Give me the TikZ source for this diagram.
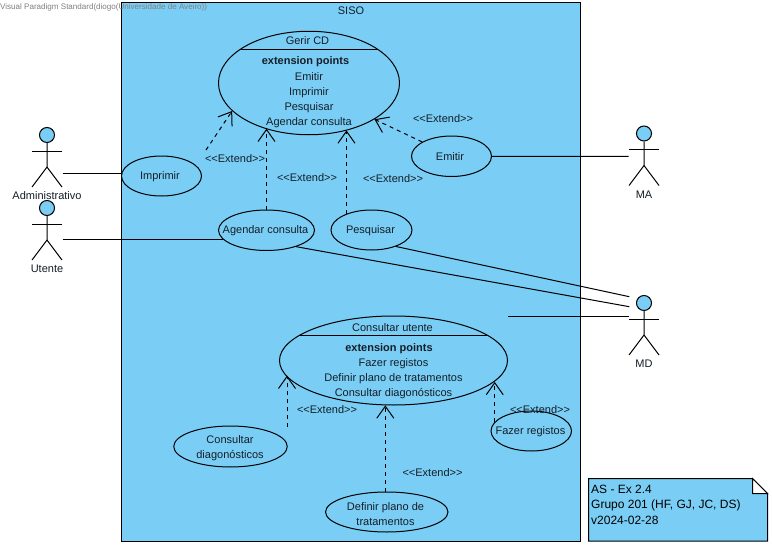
\documentclass[tikz,border=0pt]{standalone}
\usepackage{fontspec}
\setmainfont{Liberation Sans}
\usetikzlibrary{arrows.meta,shapes.geometric,calc}
\definecolor{vpblue}{RGB}{122,206,245}
\definecolor{txt}{RGB}{20,30,40}
\tikzset{
  usecase/.style={ellipse,draw=black,fill=vpblue,line width=1pt,inner sep=0pt,minimum width=#1},
  usecase/.default=80pt,
  lbl/.style={inner sep=0pt,yshift=-1pt,text=txt,font=\fontsize{11}{15}\selectfont,align=center},
  notelbl/.style={inner sep=0pt,text=black,font=\fontsize{12}{15.5}\selectfont,align=left,anchor=north west},
  assoc/.style={draw=black,line width=1pt},
  extendline/.style={draw=black,line width=1pt,dash pattern=on 4pt off 4pt,-{Straight Barb[length=12pt,width=17pt,line width=1pt]}},
  limb/.style={draw=black,line width=1pt},
}
\newcommand{\actorfig}[4]{% name, x, head y, label
  \node[circle,draw=black,fill=vpblue,line width=1pt,minimum size=15pt,inner sep=0pt] (#1) at (#2,#3) {};
  \draw[limb] (#1.south) -- ++(0,24) coordinate (#1hip) -- ++(-15,20);
  \draw[limb] (#1hip) -- ++(15,20);
  \draw[limb] (#2-15,#3+16) -- (#2+15,#3+16);
  \node[lbl] (#1lbl) at (#2,#3+60) {#4};
}
\begin{document}
\begin{tikzpicture}[x=1pt,y=-1pt]
\useasboundingbox (0,0) rectangle (772,546);
\fill[white] (0,0) rectangle (772,546);
% system
\node[draw=black,fill=vpblue,line width=1pt,minimum width=459pt,minimum height=538.5pt,inner sep=0pt] (siso) at (351,271.75) {};
\node[lbl] (sisolbl) at (351,10) {SISO};
% note
\draw[black,fill=vpblue,line width=1pt] (588.5,478.5) -- (752.5,478.5) -- (767.5,493.5) -- (767.5,541) -- (588.5,541) -- cycle;
\draw[black,fill=white,line width=1pt] (752.5,478.5) -- (752.5,493.5) -- (767.5,493.5) -- cycle;
\node[notelbl] (note) at (591,484.5) {AS - Ex 2.4\\Grupo 201 (HF, GJ, JC, DS)\\v2024-02-28};
% actors
\actorfig{adm}{47}{135}{Administrativo}
\actorfig{ute}{47}{208}{Utente}
\actorfig{ma}{644}{133.5}{MA}
\actorfig{md}{644}{303}{MD}
\coordinate (admR) at (62.5,173.5);
\coordinate (uteR) at (62.5,239.3);
\coordinate (maL) at (628.5,156.3);
\coordinate (mdA) at (629.3,296.7);
\coordinate (mdB) at (629.3,306.7);
\coordinate (mdC) at (628.5,316.3);
\coordinate (impFree) at (206,150);
\coordinate (diagFree) at (287,427);
% use cases
\node[usecase=181pt,minimum height=103.5pt] (gerir) at (309,83) {};
\draw[assoc] (240,49.5) -- (378,49.5);
\node[lbl] (gerirT) at (307.5,40) {Gerir CD};
\node[lbl,font=\fontsize{11}{15}\selectfont\bfseries] (gerirE) at (305.5,61) {extension points};
\node[lbl] (gerirP) at (309,99.5) {Emitir\\Imprimir\\Pesquisar\\Agendar consulta};
\node[usecase=228pt,minimum height=89pt] (cons) at (393.5,360.5) {};
\draw[assoc] (300,335.3) -- (487,335.3);
\node[lbl] (consT) at (392.5,326.5) {Consultar utente};
\node[lbl,font=\fontsize{11}{15}\selectfont\bfseries] (consE) at (389,347.5) {extension points};
\node[lbl] (consP) at (393.5,377.5) {Fazer registos\\Definir plano de tratamentos\\Consultar diagonósticos};
\node[usecase=80pt,minimum height=40pt] (imp) at (161.5,176) {};
\node[lbl] (impT) at (160,176) {Imprimir};
\node[usecase=96pt,minimum height=40.5pt] (age) at (266.5,230.25) {};
\node[lbl] (ageT) at (265.5,230) {Agendar consulta};
\node[usecase=81pt,minimum height=40pt] (pes) at (371.5,230) {};
\node[lbl] (pesT) at (370.5,230) {Pesquisar};
\node[usecase=80pt,minimum height=40.5pt] (emi) at (451.5,156.25) {};
\node[lbl] (emiT) at (450,156) {Emitir};
\node[usecase=113.5pt,minimum height=41pt] (dia) at (230.5,446.5) {};
\node[lbl] (diaT) at (230,447) {Consultar\\diagonósticos};
\node[usecase=80.5pt,minimum height=40pt] (faz) at (531.25,431) {};
\node[lbl] (fazT) at (530.5,431) {Fazer registos};
\node[usecase=122.5pt,minimum height=40pt] (def) at (386.75,512) {};
\node[lbl] (defT) at (385.5,513) {Definir plano de\\tratamentos};
% associations
\draw[assoc] (admR) -- (admR -| imp.west);
\draw[assoc] (uteR) -- (uteR -| age.192);
\draw[assoc] (emi.east) -- (maL);
\draw[assoc] (pes.326) -- (mdA);
\draw[assoc] (age.331) -- (mdB);
\draw[assoc] (cons.east |- mdC) -- (mdC);
% extends
\draw[extendline] (impFree) -- (gerir.200.9);
\draw[extendline] (age.north) -- (age.north |- gerir.226.9);
\draw[extendline] (pes.147) -- (pes.147 |- gerir.309.1);
\draw[extendline] (emi.154) -- (gerir.331.3);
\draw[extendline] (diagFree) -- (diagFree |- cons.188.5);
\draw[extendline] (def.94) -- (def.94 |- cons.259.8);
\draw[extendline] (faz.166) -- (faz.166 |- cons.348.9);
% extend labels
\node[lbl] (x1) at (235,158) {<{}<Extend>{}>};
\node[lbl] (x2) at (307,177) {<{}<Extend>{}>};
\node[lbl] (x3) at (393,178) {<{}<Extend>{}>};
\node[lbl] (x4) at (443,118) {<{}<Extend>{}>};
\node[lbl] (x5) at (327,409) {<{}<Extend>{}>};
\node[lbl] (x6) at (432.5,472) {<{}<Extend>{}>};
\node[lbl] (x7) at (540,409) {<{}<Extend>{}>};
% watermark
\node[inner sep=0pt,anchor=west,text=black!50,font=\fontsize{8.05}{10}\selectfont] (wm) at (0,7) {Visual Paradigm Standard(diogo(Universidade de Aveiro))};
\end{tikzpicture}
\end{document}
